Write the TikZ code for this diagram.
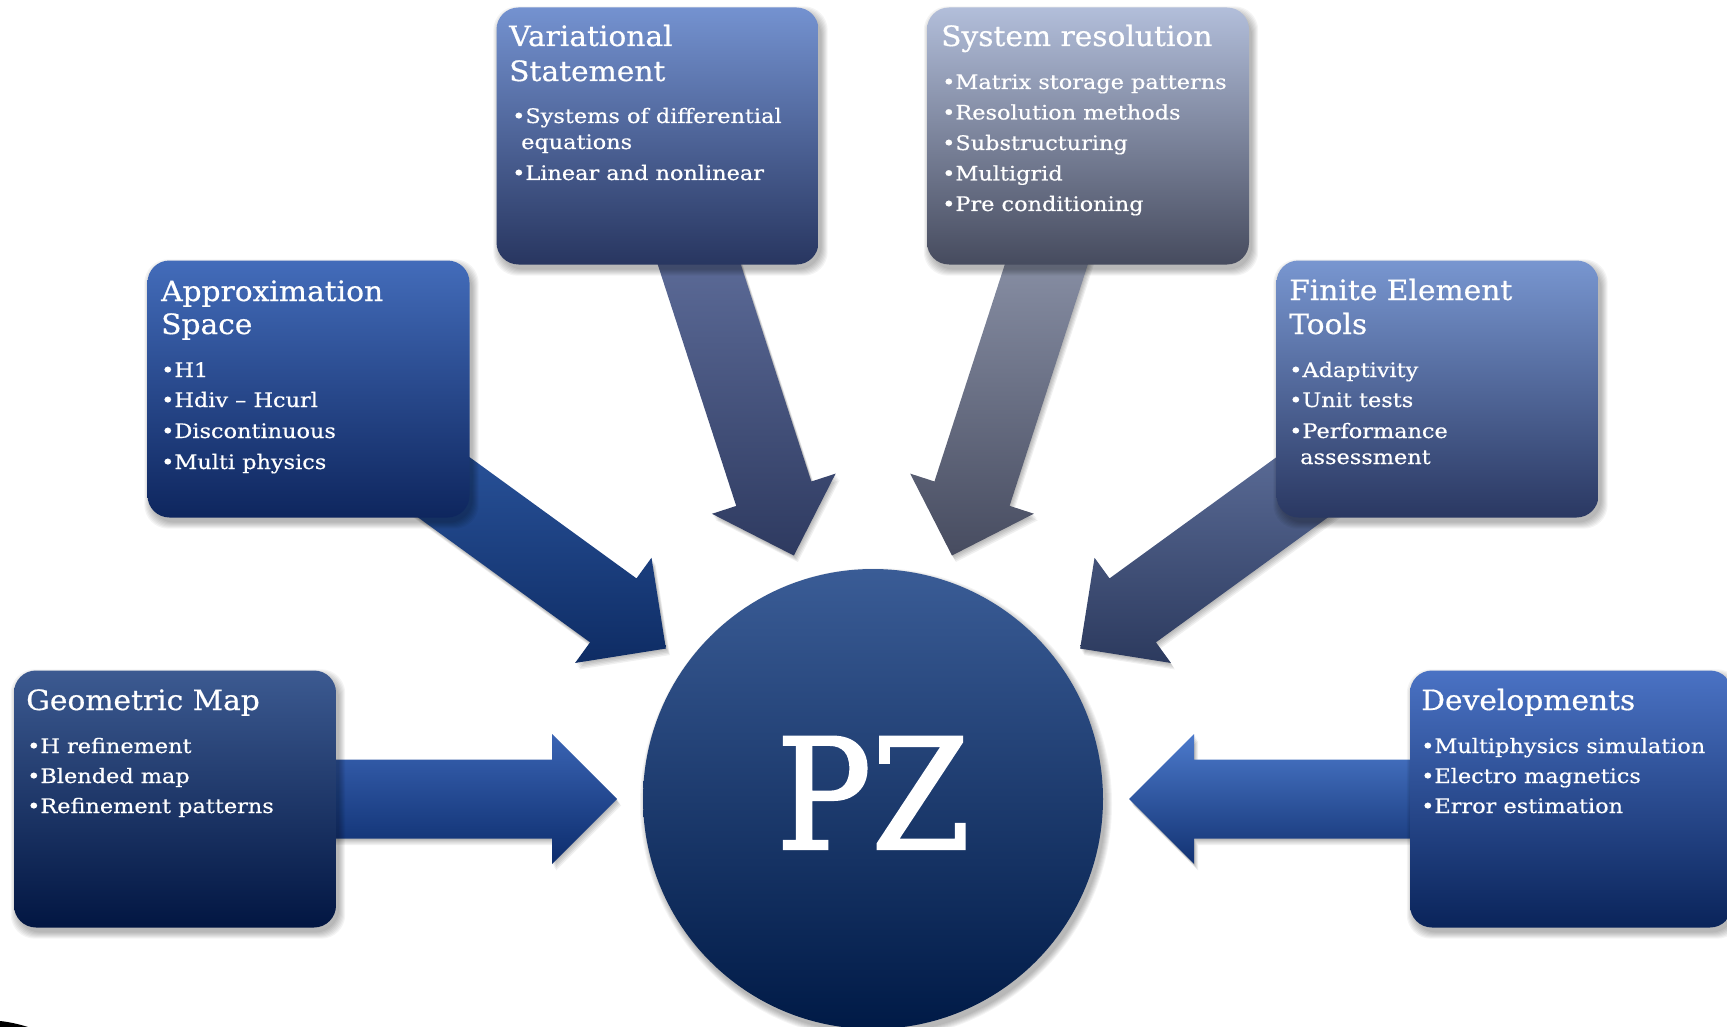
\documentclass[tikz,border=0pt]{standalone}
\usepackage{fontspec}
\setmainfont{DejaVu Serif}
\newfontfamily\ttlfont[FakeStretch=1.06,FakeBold=0.6]{DejaVu Serif}
\newfontfamily\bulfont[FakeStretch=1.12,FakeBold=0.5]{DejaVu Serif}
\newfontfamily\pzfont[FakeStretch=0.92,FakeBold=1.5]{DejaVu Serif}
\usetikzlibrary{calc}
\pgfdeclarelayer{bgfill}
\pgfdeclarelayer{ashadow}
\pgfdeclarelayer{arrows}
\pgfdeclarelayer{cshadow}
\pgfsetlayers{bgfill,ashadow,arrows,cshadow,main}

\definecolor{gmTop}{HTML}{3C5A91}\definecolor{gmBot}{HTML}{021642}
\definecolor{apTop}{HTML}{436CBA}\definecolor{apBot}{HTML}{0E265E}
\definecolor{vsTop}{HTML}{7492D0}\definecolor{vsBot}{HTML}{283660}
\definecolor{srTop}{HTML}{B2BEDA}\definecolor{srBot}{HTML}{464B5E}
\definecolor{feTop}{HTML}{7896D0}\definecolor{feBot}{HTML}{2A3862}
\definecolor{dvTop}{HTML}{4A72C4}\definecolor{dvBot}{HTML}{0A245A}
\definecolor{cTop}{HTML}{3A5C96}\definecolor{cBot}{HTML}{001A46}
\definecolor{agmTop}{HTML}{3A64B4}\definecolor{agmBot}{HTML}{0C2C6C}
\definecolor{aapTop}{HTML}{3462B0}\definecolor{aapBot}{HTML}{0E2C64}
\definecolor{avsTop}{HTML}{7080B0}\definecolor{avsBot}{HTML}{2E3A60}
\definecolor{asrTop}{HTML}{A4ACC2}\definecolor{asrBot}{HTML}{474C60}
\definecolor{afeTop}{HTML}{6E80AE}\definecolor{afeBot}{HTML}{2C3A5E}
\definecolor{advTop}{HTML}{4C7ACC}\definecolor{advBot}{HTML}{123272}

\tikzset{
  card/.style={rectangle, rounded corners=22pt, minimum width=322pt, minimum height=257pt, inner sep=0pt},
  ttl/.style={anchor=base west, inner sep=0pt, text=white, font=\ttlfont\fontsize{28}{34}\selectfont},
  bul/.style={anchor=base west, inner sep=0pt, text=white, font=\bulfont\fontsize{20}{30}\selectfont},
  shadowfill/.style={fill=black, opacity=0.045}
}

\newcommand\arrowpath[2]{%
  \path[#2]
    ($(pz)!256pt!(#1)$)
    -- ($(pz)!321pt!(#1)!65pt!90:(#1)$)
    -- ($(pz)!321pt!(#1)!39.5pt!90:(#1)$)
    -- ($(#1)!39.5pt!-90:(pz)$)
    -- ($(#1)!39.5pt!90:(pz)$)
    -- ($(pz)!321pt!(#1)!39.5pt!-90:(#1)$)
    -- ($(pz)!321pt!(#1)!65pt!-90:(#1)$)
    -- cycle;}
\newcommand\blockarrow[3]{%
  \begin{pgfonlayer}{ashadow}
  \foreach \d in {1,2,3,4,5}{%
    \arrowpath{#1}{fill=black, opacity=0.06, transform canvas={shift={(0.8*\d pt,-1.3*\d pt)}}}}
  \end{pgfonlayer}
  \begin{pgfonlayer}{arrows}
  \arrowpath{#1}{top color=#2, bottom color=#3}
  \end{pgfonlayer}}
\newcommand\cardshadow[1]{%
  \begin{pgfonlayer}{cshadow}
  \foreach \i in {0,1,...,6}{%
    \fill[shadowfill, rounded corners=24pt] ($(#1.south west)+(3-\i,5+\i)$) rectangle ($(#1.north east)+(3+\i,5-\i)$);}
  \end{pgfonlayer}}

\begin{document}
\begin{tikzpicture}[x=1pt,y=-1pt]
\useasboundingbox (0,0) rectangle (1727,1027);
\begin{pgfonlayer}{bgfill}
\fill[white] (0,0) rectangle (1727,1027);
\end{pgfonlayer}

% cards
\node[card, top color=gmTop, bottom color=gmBot] (gm) at (175,799) {};
\node[card, top color=apTop, bottom color=apBot] (ap) at (308.5,389) {};
\node[card, top color=vsTop, bottom color=vsBot] (vs) at (657.5,136) {};
\node[card, top color=srTop, bottom color=srBot] (sr) at (1088,136) {};
\node[card, top color=feTop, bottom color=feBot] (fe) at (1437.5,389) {};
\node[card, top color=dvTop, bottom color=dvBot] (dv) at (1571,799) {};
\cardshadow{gm}\cardshadow{ap}\cardshadow{vs}\cardshadow{sr}\cardshadow{fe}\cardshadow{dv}

% centre
\node[circle, minimum size=460pt, inner sep=0pt, top color=cTop, bottom color=cBot] (pz) at (873,799) {};
\begin{pgfonlayer}{cshadow}
\foreach \i in {0,1,...,6}{%
  \fill[shadowfill] ($(pz)+(3,5)$) circle [radius={(230+\i)*1pt}];}
\end{pgfonlayer}
\node[anchor=base, inner sep=0pt, text=white, font=\pzfont\fontsize{154}{154}\selectfont] (pzt) at (873,849) {PZ};

% arrows
\blockarrow{gm}{agmTop}{agmBot}
\blockarrow{ap}{aapTop}{aapBot}
\blockarrow{vs}{avsTop}{avsBot}
\blockarrow{sr}{asrTop}{asrBot}
\blockarrow{fe}{afeTop}{afeBot}
\blockarrow{dv}{advTop}{advBot}

% Geometric Map
\node[ttl] (gm-t) at (26,710) {Geometric Map};
\node[bul] (gm-1) at (27,753) {•H refinement};
\node[bul] (gm-2) at (27,783) {•Blended map};
\node[bul] (gm-3) at (27,813) {•Refinement patterns};

% Approximation Space
\node[ttl] (ap-t1) at (161,301) {Approximation};
\node[ttl] (ap-t2) at (161,334) {Space};
\node[bul] (ap-1) at (161,377) {•H1};
\node[bul] (ap-2) at (161,407) {•Hdiv – Hcurl};
\node[bul] (ap-3) at (161,438) {•Discontinuous};
\node[bul] (ap-4) at (161,469) {•Multi physics};

% Variational Statement
\node[ttl] (vs-t1) at (509,46) {Variational};
\node[ttl] (vs-t2) at (509,81) {Statement};
\node[bul] (vs-1) at (512,123) {•Systems of differential};
\node[bul] (vs-1b) at (521,149) {equations};
\node[bul] (vs-2) at (512,180) {•Linear and nonlinear};

% System resolution
\node[ttl] (sr-t) at (941,46) {System resolution};
\node[bul] (sr-1) at (942,89) {•Matrix storage patterns};
\node[bul] (sr-2) at (942,119.5) {•Resolution methods};
\node[bul] (sr-3) at (942,150) {•Substructuring};
\node[bul] (sr-4) at (942,180.5) {•Multigrid};
\node[bul] (sr-5) at (942,211) {•Pre conditioning};

% Finite Element Tools
\node[ttl] (fe-t1) at (1289,300) {Finite Element};
\node[ttl] (fe-t2) at (1289,334) {Tools};
\node[bul] (fe-1) at (1289,377) {•Adaptivity};
\node[bul] (fe-2) at (1289,407) {•Unit tests};
\node[bul] (fe-3) at (1289,438) {•Performance};
\node[bul] (fe-3b) at (1300,464) {assessment};

% Developments
\node[ttl] (dv-t) at (1421,710) {Developments};
\node[bul] (dv-1) at (1421,753) {•Multiphysics simulation};
\node[bul] (dv-2) at (1421,783) {•Electro magnetics};
\node[bul] (dv-3) at (1421,813) {•Error estimation};

% corner sliver
\fill[black] (0,1021) .. controls (10,1022) and (20,1024.5) .. (28,1027) -- (0,1027) -- cycle;
\end{tikzpicture}
\end{document}
